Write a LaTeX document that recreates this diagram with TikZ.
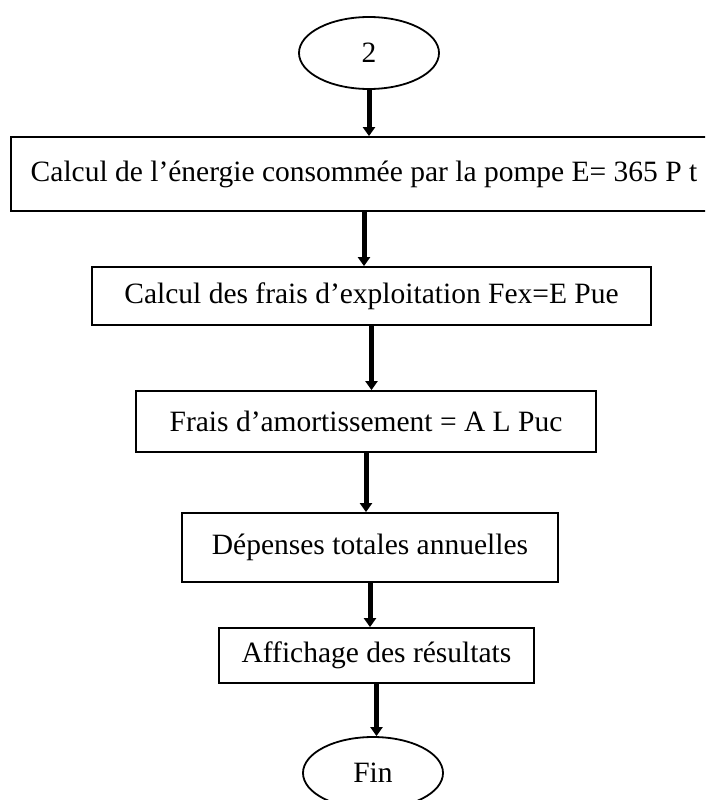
\documentclass[tikz,border=0pt]{standalone}
\usepackage{fontspec}
\setmainfont{Liberation Serif}
\usepackage{tikz}
\usetikzlibrary{positioning}
\usetikzlibrary{shapes.geometric, arrows.meta}
\tikzstyle{stepbox}=[draw, rectangle, line width=1.8pt, inner sep=0pt, font=\fontsize{29.5}{34}\selectfont]
\tikzstyle{terminal}=[draw, ellipse, line width=1.8pt, minimum width=140pt, minimum height=72pt, inner sep=0pt, font=\fontsize{29.5}{34}\selectfont]
\tikzstyle{flow}=[line width=5pt, -{Triangle[width=12pt, length=9pt]}]

\begin{document}
\begin{tikzpicture}[x=1pt, y=-1pt]
            \clip (0,0) rectangle (705,800);
            \node[terminal] (two) at (369,53) {2};
            \node[stepbox, minimum width=706pt, minimum height=74pt] (energy) at (364,174) {Calcul de l’énergie consommée par la pompe E= 365 P t};
            \node[stepbox, minimum width=559pt, minimum height=58pt] (fex) at (371.5,296) {Calcul des frais d’exploitation Fex=E Pue};
            \node[stepbox, minimum width=460pt, minimum height=61pt] (amort) at (366,421.5) {Frais d’amortissement = A L Puc};
            \node[stepbox, minimum width=376pt, minimum height=69pt] (total) at (370,547.5) {Dépenses totales annuelles};
            \node[stepbox, minimum width=315pt, minimum height=55pt] (show) at (376.5,655.5) {Affichage des résultats};
            \node[terminal] (fin) at (373,773) {Fin};

            \draw[flow] (two.south) -- (two.south |- energy.north);
            \draw[flow] (energy.south) -- (energy.south |- fex.north);
            \draw[flow] (fex.south) -- (fex.south |- amort.north);
            \draw[flow] (amort.south) -- (amort.south |- total.north);
            \draw[flow] (total.south) -- (total.south |- show.north);
            \draw[flow] (show.south) -- (show.south |- fin.north);
        \end{tikzpicture}
\end{document}
